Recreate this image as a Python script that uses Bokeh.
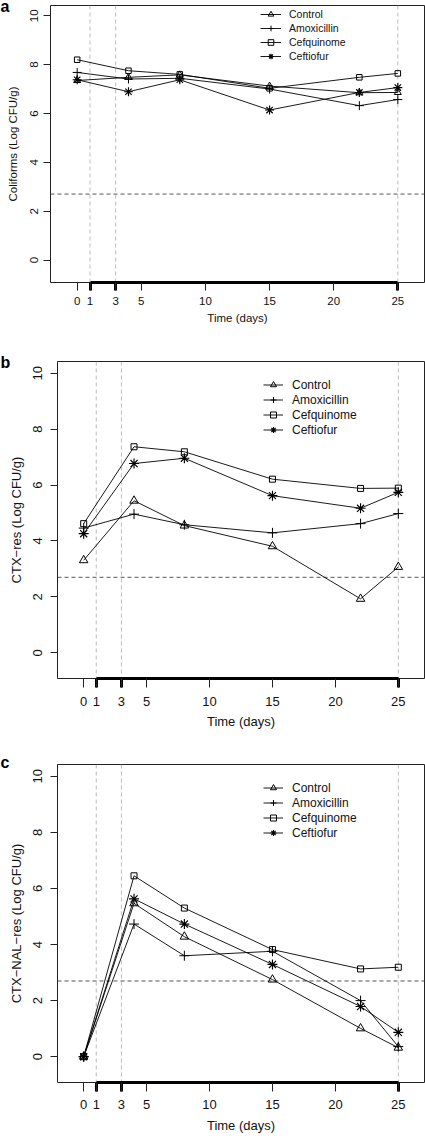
from bokeh.plotting import figure
from bokeh.models import Range1d, FixedTicker, LinearAxis, Span, Legend, LegendItem
from bokeh.embed import file_html
from bokeh.resources import INLINE

# ---------------- data ----------------
days = [0, 4, 8, 15, 22, 25]
x_ticks = [0, 1, 3, 5, 10, 15, 20, 25]
treatment_ticks = [1, 3, 25]
y_ticks = [0, 2, 4, 6, 8, 10]
groups = ["Control", "Amoxicillin", "Cefquinome", "Ceftiofur"]
markers = ["triangle", "cross", "square", "asterisk"]
detection_limit = 2.7
treatment_days = [1, 3, 25]

# a: Coliforms
a_control = [7.35, 7.48, 7.58, 7.12, 6.85, 6.86]
a_amoxicillin = [7.68, 7.41, 7.44, 7.00, 6.32, 6.57]
a_cefquinome = [8.20, 7.75, 7.60, 7.03, 7.48, 7.64]
a_ceftiofur = [7.38, 6.89, 7.38, 6.14, 6.86, 7.06]

# b: CTX-res
b_control = [3.31, 5.44, 4.55, 3.81, 1.93, 3.07]
b_amoxicillin = [4.46, 4.96, 4.58, 4.29, 4.62, 4.98]
b_cefquinome = [4.62, 7.37, 7.19, 6.21, 5.88, 5.89]
b_ceftiofur = [4.26, 6.77, 6.96, 5.62, 5.17, 5.74]

# c: CTX-NAL-res
c_control = [0.0, 5.47, 4.28, 2.75, 1.01, 0.32]
c_amoxicillin = [0.0, 4.73, 3.60, 3.76, 2.00, 0.36]
c_cefquinome = [0.0, 6.45, 5.30, 3.82, 3.13, 3.19]
c_ceftiofur = [0.0, 5.63, 4.73, 3.29, 1.79, 0.87]

FONT = "Liberation Sans"


def make_panel(letter, ylabel, series, H, L, T, B, fs, legfs, msizes, leg_loc,
               glyph_w, glyph_h, leg_standoff, ylab_standoff, yaxlab_standoff,
               xlab_standoff, xaxlab_standoff, tick_out, letter_standoff):
    p = figure(width=425, height=H, x_range=Range1d(-2.08, 27.08), y_range=Range1d(-0.92, 10.42),
               output_backend="svg", toolbar_location=None,
               x_axis_location=None, y_axis_location=None,
               min_border_left=L, min_border_right=1, min_border_top=T, min_border_bottom=B)
    p.xgrid.visible = False
    p.ygrid.visible = False
    p.outline_line_color = "#222222"
    p.outline_line_width = 1
    p.background_fill_color = "white"
    p.border_fill_color = "white"

    # panel letter as a title pulled down beside the top-left corner of the frame
    p.title.text = letter
    p.title.text_font = FONT
    p.title.text_font_style = "bold"
    p.title.text_font_size = "16px"
    p.title.text_color = "black"
    p.title.align = "left"
    p.title.vertical_align = "bottom"
    p.title.offset = -L
    p.title.standoff = letter_standoff

    # y axis
    ya = LinearAxis(ticker=FixedTicker(ticks=y_ticks), axis_label=ylabel,
                    axis_line_color=None, major_tick_out=7, major_tick_in=0,
                    major_tick_line_color="#222222", minor_tick_line_color=None,
                    major_label_orientation="vertical", major_label_standoff=ylab_standoff,
                    axis_label_standoff=yaxlab_standoff,
                    major_label_text_font=FONT, major_label_text_font_size=fs,
                    major_label_text_color="#111111",
                    axis_label_text_font=FONT, axis_label_text_font_size=fs,
                    axis_label_text_font_style="normal", axis_label_text_color="#111111")
    p.add_layout(ya, "left")

    # thick treatment-period axis (no labels of its own)
    xa = LinearAxis(ticker=FixedTicker(ticks=treatment_ticks), bounds=(1, 25),
                    axis_line_width=3, axis_line_color="black",
                    major_tick_line_width=3, major_tick_line_color="black",
                    major_tick_out=tick_out, major_tick_in=0,
                    minor_tick_line_color=None,
                    major_label_text_color=None, major_label_text_font_size="0px",
                    major_label_standoff=0)
    p.add_layout(xa, "below")

    # labelled time axis
    xb = LinearAxis(ticker=FixedTicker(ticks=x_ticks), axis_line_color=None,
                    major_tick_in=tick_out, major_tick_out=0,
                    major_tick_line_color="#222222", minor_tick_line_color=None,
                    major_label_standoff=xlab_standoff, axis_label="Time (days)",
                    axis_label_standoff=xaxlab_standoff,
                    major_label_text_font=FONT, major_label_text_font_size=fs,
                    major_label_text_color="#111111",
                    axis_label_text_font=FONT, axis_label_text_font_size=fs,
                    axis_label_text_font_style="normal", axis_label_text_color="#111111")
    p.add_layout(xb, "below")

    # reference lines
    for d in treatment_days:
        p.add_layout(Span(location=d, dimension="height", line_color="#bbbbbb",
                          line_dash="4 3", line_width=1, level="underlay"))
    p.add_layout(Span(location=detection_limit, dimension="width", line_color="#555555",
                      line_dash="4 3", line_width=1, level="underlay"))

    items = []
    for g, m, vals, ms in zip(groups, markers, series, msizes):
        rl = p.line(days, vals, line_color="black", line_width=0.9)
        rp = p.scatter(days, vals, marker=m, size=ms, line_color="black", fill_color=None,
                       line_width=1.15 if m == "asterisk" else 1)
        items.append(LegendItem(label=g, renderers=[rl, rp]))

    leg = Legend(items=items, location=leg_loc, padding=0, margin=0, spacing=-2,
                 glyph_width=glyph_w, glyph_height=glyph_h, label_height=glyph_h,
                 label_standoff=leg_standoff, label_text_font=FONT,
                 label_text_font_size=legfs, label_text_color="#111111",
                 border_line_color=None, background_fill_alpha=0)
    p.add_layout(leg)
    return p


pa = make_panel("a", "Coliforms (Log CFU/g)",
                [a_control, a_amoxicillin, a_cefquinome, a_ceftiofur],
                H=340, L=50, T=5, B=58, fs="11.5px", legfs="10.5px",
                msizes=[7, 9, 5.5, 9], leg_loc=(210, 219), glyph_w=21, glyph_h=14,
                leg_standoff=8, ylab_standoff=5, yaxlab_standoff=9,
                xlab_standoff=6, xaxlab_standoff=4, tick_out=8, letter_standoff=-19)

pb = make_panel("b", "CTX\u2212res (Log CFU/g)",
                [b_control, b_amoxicillin, b_cefquinome, b_ceftiofur],
                H=400, L=57, T=21, B=62, fs="13px", legfs="12px",
                msizes=[8.5, 10, 6, 10], leg_loc=(206, 241), glyph_w=20, glyph_h=15,
                leg_standoff=9, ylab_standoff=8, yaxlab_standoff=7,
                xlab_standoff=9, xaxlab_standoff=5, tick_out=9, letter_standoff=-18)

pc = make_panel("c", "CTX\u2212NAL\u2212res (Log CFU/g)",
                [c_control, c_amoxicillin, c_cefquinome, c_ceftiofur],
                H=396, L=57, T=24, B=54, fs="13px", legfs="12px",
                msizes=[8.5, 10, 6, 10], leg_loc=(206, 242), glyph_w=20, glyph_h=15,
                leg_standoff=9, ylab_standoff=8, yaxlab_standoff=7,
                xlab_standoff=8, xaxlab_standoff=6, tick_out=9, letter_standoff=-13)

# three independent roots, stacked in the page (no cross-panel frame alignment)
open("out.html", "w").write(file_html([pa, pb, pc], INLINE))
